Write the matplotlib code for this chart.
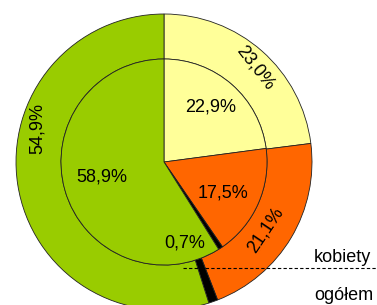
import matplotlib
matplotlib.use("Agg")
from matplotlib import pyplot as plt
import numpy as np

plt.rcParams['font.family'] = ['Liberation Sans', 'DejaVu Sans']

# dane: ogółem (pierścień zewnętrzny) i kobiety (koło wewnętrzne)
ogolem = [23.0, 21.1, 1.0, 54.9]
kobiety = [22.9, 17.5, 0.7, 58.9]
ogolem_lab = ["23,0%", "21,1%", "", "54,9%"]
kobiety_lab = ["22,9%", "17,5%", "0,7%", "58,9%"]
kolory = ['#FFFF99', '#FF6600', '#000000', '#99CC00']

W, H = 377, 305
fig = plt.figure(figsize=(W / 100, H / 100), dpi=100)
ax = fig.add_axes([0, 0, 1, 1])

cx, cy = 164, 143
R_out, R_in = 148, 103
edge = dict(edgecolor='#222222', linewidth=0.6)

ax.pie(ogolem, radius=R_out, center=(cx, cy), colors=kolory, startangle=90,
       counterclock=False, wedgeprops=dict(width=R_out - R_in, **edge))
ax.pie(kobiety, radius=R_in, center=(cx, cy), colors=kolory, startangle=90,
       counterclock=False, wedgeprops=edge)
ax.set_xlim(0, W)
ax.set_ylim(0, H)
ax.set_aspect('equal')
ax.axis('off')

# etykiety koła wewnętrznego (poziome)
in_ang = [50, -27.7, -75.5, 193.6]
in_r = [72, 67, 84, 64]
for lab, a, r in zip(kobiety_lab, in_ang, in_r):
    t = np.deg2rad(a)
    ax.text(cx + r * np.cos(t), cy + r * np.sin(t), lab, fontsize=13,
            ha='center', va='center')

# etykiety pierścienia zewnętrznego (obrócone)
out_ang = [46, -34, 0, 165]
out_r = [131, 122, 0, 131]
out_rot = [-52, 56, 0, 90]
for lab, a, r, rot in zip(ogolem_lab, out_ang, out_r, out_rot):
    if not lab:
        continue
    t = np.deg2rad(a)
    ax.text(cx + r * np.cos(t), cy + r * np.sin(t), lab, fontsize=13,
            ha='center', va='center', rotation=rot, rotation_mode='anchor')

ax.plot([183, W], [37, 37], color='black', linestyle=(0, (3, 2)), linewidth=0.8)
ax.text(314, 47, "kobiety", fontsize=13, ha='left', va='center')
ax.text(314, 10, "ogółem", fontsize=13, ha='left', va='center')

fig.savefig("out.png", dpi=100)
